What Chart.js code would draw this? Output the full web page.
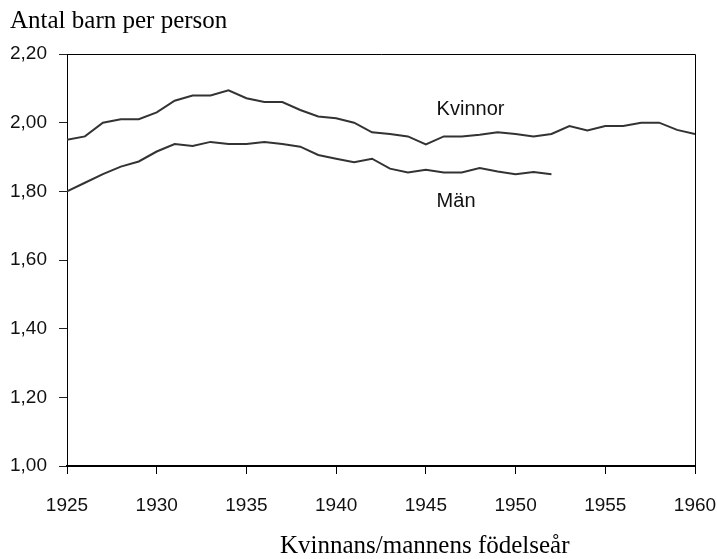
<!DOCTYPE html>
<html lang="sv">
<head>
<meta charset="utf-8">
<title>Antal barn per person</title>
<script src="https://cdn.jsdelivr.net/npm/chart.js@4.4.1/dist/chart.umd.min.js"></script>
<style>
  html, body { margin: 0; padding: 0; background: #fff; }
  #diagram { display: block; }
</style>
</head>
<body>
<canvas id="diagram" width="717" height="559"></canvas>
<script>
// ================== DATA ==================
const ar = [1925, 1926, 1927, 1928, 1929, 1930, 1931, 1932, 1933, 1934, 1935, 1936,
            1937, 1938, 1939, 1940, 1941, 1942, 1943, 1944, 1945, 1946, 1947, 1948,
            1949, 1950, 1951, 1952, 1953, 1954, 1955, 1956, 1957, 1958, 1959, 1960];

const kvinnor = [1.95, 1.96, 2.00, 2.01, 2.01, 2.03, 2.064, 2.079, 2.079, 2.094, 2.071, 2.06,
                 2.06, 2.037, 2.018, 2.013, 2.00, 1.972, 1.967, 1.96, 1.937, 1.96, 1.96, 1.965,
                 1.972, 1.967, 1.96, 1.967, 1.99, 1.977, 1.99, 1.99, 2.00, 2.00, 1.979, 1.967];

// män: bara t.o.m. 1952
const man = [1.80, 1.825, 1.85, 1.872, 1.887, 1.916, 1.938, 1.932, 1.944, 1.938, 1.938, 1.944,
             1.938, 1.93, 1.906, 1.895, 1.885, 1.895, 1.866, 1.855, 1.863, 1.855, 1.855, 1.868,
             1.858, 1.85, 1.856, 1.85];

const xTicks = [1925, 1930, 1935, 1940, 1945, 1950, 1955, 1960];
const yTicks = [1.00, 1.20, 1.40, 1.60, 1.80, 2.00, 2.20];

const serieNamn = ['Kvinnor', 'Män'];
const yTitel = 'Antal barn per person';
const xTitel = 'Kvinnans/mannens födelseår';

// ankare för serieetiketterna (i dataenheter)
const etikettAnkare = [
    { x: 1945.6, y: 2.037 },
    { x: 1945.6, y: 1.769 }
];

const linjeFarg = '#333333';
const tickFont = { family: '"Liberation Sans", Arial, sans-serif', size: 19 };
const titelFont = '25px "Liberation Serif", "Times New Roman", serif';

function tillPunkter(varden) {
    return varden.map((v, i) => ({ x: ar[i], y: v }));
}

// ================== PLUGIN: ram, titlar, etiketter ==================
const ramOchText = {
    id: 'ramOchText',
    afterDraw(chart) {
        const ctx = chart.ctx;
        const a = chart.chartArea;
        const xs = chart.scales.x;
        const ys = chart.scales.y;

        ctx.save();
        // topp- och högerkant
        ctx.strokeStyle = '#000';
        ctx.lineWidth = 1;
        ctx.beginPath();
        ctx.moveTo(a.left, a.top + 0.5);
        ctx.lineTo(a.right + 0.5, a.top + 0.5);
        ctx.lineTo(a.right + 0.5, a.bottom);
        ctx.stroke();

        // titlar
        ctx.fillStyle = '#000';
        ctx.font = titelFont;
        ctx.textBaseline = 'alphabetic';
        ctx.textAlign = 'left';
        ctx.fillText(yTitel, 10, 28);
        ctx.fillText(xTitel, 280, 553);

        // serieetiketter
        ctx.font = '20px ' + tickFont.family;
        ctx.fillStyle = '#111';
        ctx.textBaseline = 'middle';
        etikettAnkare.forEach((p, i) => {
            ctx.fillText(serieNamn[i], xs.getPixelForValue(p.x), ys.getPixelForValue(p.y));
        });
        ctx.restore();
    }
};

// ================== DIAGRAM ==================
new Chart(document.getElementById('diagram'), {
    type: 'line',
    data: {
        datasets: [
            { label: serieNamn[0], data: tillPunkter(kvinnor) },
            { label: serieNamn[1], data: tillPunkter(man) }
        ]
    },
    options: {
        responsive: false,
        animation: false,
        devicePixelRatio: 1,
        layout: { padding: { top: 54, right: 22, left: 0, bottom: 0 } },
        elements: {
            line: { borderColor: linjeFarg, borderWidth: 2, tension: 0, fill: false },
            point: { radius: 0, hoverRadius: 0 }
        },
        plugins: {
            legend: { display: false },
            tooltip: { enabled: false }
        },
        scales: {
            x: {
                type: 'linear',
                min: 1925,
                max: 1960,
                afterBuildTicks: (scale) => { scale.ticks = xTicks.map(v => ({ value: v })); },
                afterFit: (scale) => {
                    scale.height = 93;
                    scale.paddingLeft = 0;
                    scale.paddingRight = 0;
                },
                grid: { drawOnChartArea: false, drawTicks: true, tickLength: 8, color: '#000', tickWidth: 1 },
                border: { display: true, color: '#000', width: 2 },
                ticks: {
                    font: tickFont,
                    color: '#111',
                    padding: 20,
                    maxRotation: 0,
                    autoSkip: false,
                    callback: (v) => String(v)
                }
            },
            y: {
                min: 1.0,
                max: 2.2,
                afterBuildTicks: (scale) => { scale.ticks = yTicks.map(v => ({ value: v })); },
                afterFit: (scale) => {
                    scale.width = 67;
                    scale.paddingTop = 0;
                    scale.paddingBottom = 0;
                },
                grid: { drawOnChartArea: false, drawTicks: true, tickLength: 8, color: '#222', tickWidth: 1 },
                border: { display: true, color: '#000', width: 1 },
                ticks: {
                    font: tickFont,
                    color: '#111',
                    padding: 12,
                    callback: (v) => v.toFixed(2).replace('.', ',')
                }
            }
        }
    },
    plugins: [ramOchText]
});
</script>
</body>
</html>
